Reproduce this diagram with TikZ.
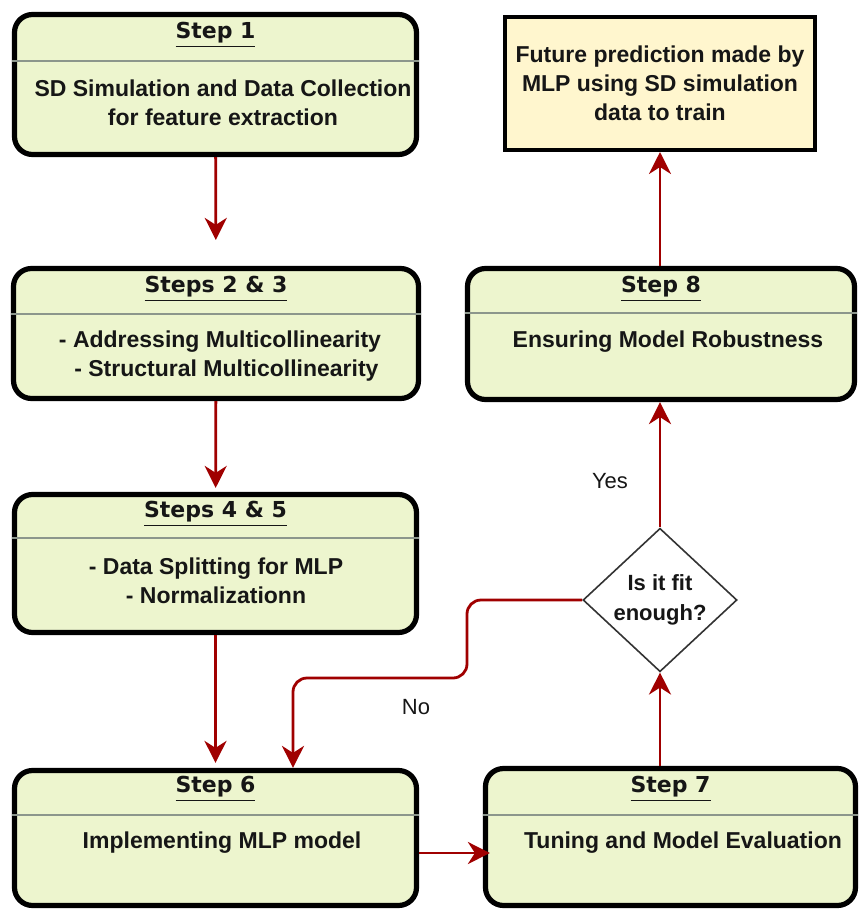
\documentclass[tikz,border=0pt]{standalone}
\usepackage{fontspec}
\setmainfont{Liberation Sans}
\newfontfamily\headfont{DejaVu Sans}
\usepackage{xcolor}
\usetikzlibrary{arrows.meta,shapes.geometric}

\definecolor{boxgreen}{RGB}{237,245,206}
\definecolor{boxyellow}{RGB}{255,246,206}
\definecolor{arrowred}{RGB}{160,0,0}
\definecolor{sepgray}{RGB}{140,150,140}
\definecolor{inkblack}{RGB}{22,22,22}

\tikzset{
  stepbox/.style={draw=black, line width=2.6pt, rounded corners=9pt, fill=boxgreen, inner sep=0pt},
  headtxt/.style={font=\headfont\bfseries\fontsize{11}{13}\selectfont, text=inkblack},
  bodytxt/.style={font=\bfseries\fontsize{11.5}{14.5}\selectfont, align=center, text=inkblack},
  septxt/.style={draw=sepgray, line width=0.7pt},
  arr/.style={-{Stealth[length=11pt,width=11pt,inset=3.5pt]}, draw=arrowred, line width=1.4pt},
}

\begin{document}
\begin{tikzpicture}[x=0.5pt, y=-0.5pt]
\useasboundingbox (0,0) rectangle (863,911);

% left column
\node[stepbox, minimum width=201pt, minimum height=70pt] (step1) at (215.5,84.5) {};
\node[stepbox, minimum width=202.5pt, minimum height=65pt] (step23) at (216,333.5) {};
\node[stepbox, minimum width=201pt, minimum height=69pt] (step45) at (215.5,563.5) {};
\node[stepbox, minimum width=201pt, minimum height=67.5pt] (step6) at (215.5,838) {};

% right column
\node[stepbox, minimum width=185pt, minimum height=68.5pt] (step7) at (670.5,837) {};
\node[stepbox, minimum width=193.5pt, minimum height=65.5pt] (step8) at (661,334) {};
\node[draw=black, line width=2pt, fill=boxyellow, minimum width=155pt, minimum height=66.5pt,
      bodytxt] (result) at (660,83.5)
      {Future prediction made by\\MLP using SD simulation\\data to train};
\node[diamond, aspect=1, draw=black!80, line width=0.8pt, fill=white, minimum width=77pt,
      inner sep=0pt, bodytxt, font=\bfseries\fontsize{11}{15}\selectfont] (fitcheck) at (660,600)
      {Is it fit\\enough?};

% separators
\foreach \b/\y in {step1/61, step23/314, step45/538, step6/815, step7/815, step8/313}
    \draw[septxt] (\b.west |- 0,\y) -- (\b.east |- 0,\y);

% headers
\node[headtxt] (step1h) at (step1.center |- 0,35) {\underline{Step 1}};
\node[headtxt] (step23h) at (step23.center |- 0,289) {\underline{Steps 2 \& 3}};
\node[headtxt] (step45h) at (step45.center |- 0,514) {\underline{Steps 4 \& 5}};
\node[headtxt] (step6h) at (step6.center |- 0,789) {\underline{Step 6}};
\node[headtxt] (step7h) at (step7.center |- 0,789) {\underline{Step 7}};
\node[headtxt] (step8h) at (step8.center |- 0,289) {\underline{Step 8}};

% texts
\node[bodytxt] (step1t) at (223,102.5) {SD Simulation and Data Collection\\for feature extraction};
\node[bodytxt] (step23t) at (220,356.5) {- Addressing Multicollinearity\\\hspace*{0.56em}- Structural Multicollinearity};
\node[bodytxt] (step45t) at (216,580.5) {- Data Splitting for MLP\\- Normalizationn};
\node[bodytxt] (step6t) at (222,843) {Implementing MLP model};
\node[bodytxt] (step7t) at (683,843) {Tuning and Model Evaluation};
\node[bodytxt] (step8t) at (668,342) {Ensuring Model Robustness};

\node[font=\fontsize{11}{13}\selectfont, text=inkblack] (yes) at (610,481) {Yes};
\node[font=\fontsize{11}{13}\selectfont, text=inkblack] (no) at (416,707) {No};

% arrows
\draw[arr, shorten >=13pt] (step1) -- (step23);
\draw[arr, shorten >=2pt] (step23) -- (step45);
\draw[arr, shorten >=2.5pt] (step45) -- (step6);
\draw[arr, shorten >=-3.5pt] ([yshift=-7.5pt]step6.east) -- ([yshift=-7.5pt]step6.east -| step7.west);
\draw[arr] (step7.north -| fitcheck) -- (fitcheck.south);
\draw[arr] (fitcheck.north) -- (step8.south -| fitcheck);
\draw[arr] (step8.north -| result) -- (result.south);
\coordinate (nobend) at (467,678);
\coordinate (nodrop) at (293,0);
\draw[arr, rounded corners=7pt] (fitcheck.west) -| (nobend) -| (step6.north -| nodrop);
\end{tikzpicture}
\end{document}
